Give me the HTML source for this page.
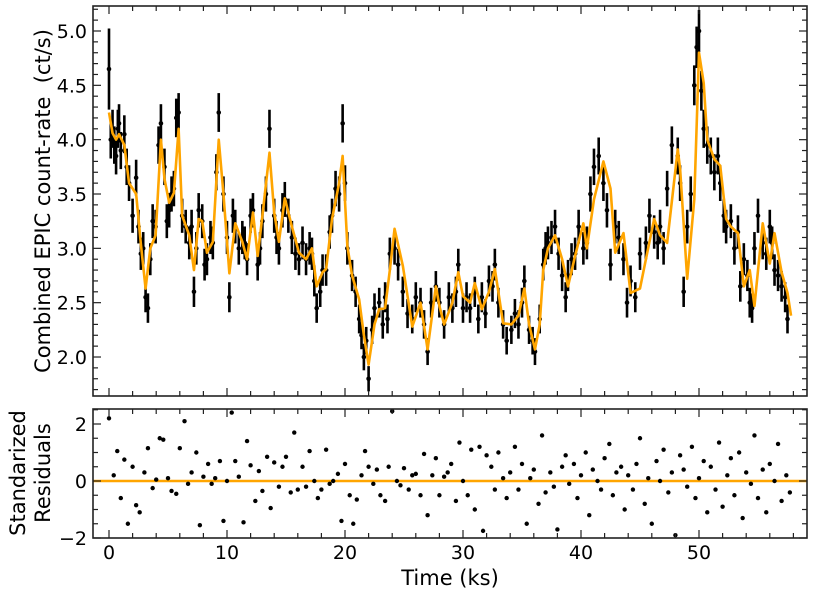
<!DOCTYPE html>
<html><head><meta charset="utf-8">
<style>
html,body{margin:0;padding:0;background:#fff;}
svg{display:block;font-family:"DejaVu Sans","Liberation Sans",sans-serif;}
</style></head>
<body>
<svg id="chart" width="814" height="596" viewBox="0 0 814 596" xmlns="http://www.w3.org/2000/svg">
<rect width="814" height="596" fill="#fff"/>
<g id="gtop"></g>
<g id="gbot"></g>
<text x="450" y="585" font-size="21" text-anchor="middle">Time (ks)</text>
<text transform="translate(50,201) rotate(-90)" font-size="21" text-anchor="middle">Combined EPIC count-rate&#160; (ct/s)</text>
<text transform="translate(25,473) rotate(-90)" font-size="21" text-anchor="middle">Standarized</text>
<text transform="translate(50,473) rotate(-90)" font-size="21" text-anchor="middle">Residuals</text>
</svg>
<script>
const modelT=[0,0.3,0.6,0.85,1.3,1.7,2.3,2.7,3.1,3.5,3.95,4.4,4.7,5.1,5.5,5.9,6.2,6.8,7.2,7.6,7.9,8.3,8.8,9.3,9.7,10.2,10.7,11.3,11.7,12.2,12.6,13.0,13.6,14.0,14.4,14.9,15.5,16.1,16.7,17.2,17.6,18.1,18.4,18.9,19.5,19.8,20.2,20.6,21.2,21.6,22.0,22.5,22.9,23.4,23.8,24.2,24.9,25.7,26.4,27.0,27.7,28.0,28.4,29.1,29.6,30.0,30.6,31.0,31.6,32.2,32.7,33.4,34.1,34.7,35.2,35.6,36.1,36.5,36.8,37.2,37.8,38.4,38.9,39.5,40.2,40.5,41.1,41.9,42.5,42.9,43.6,44.2,45.0,45.5,46.2,46.7,47.3,48.2,48.4,49.0,49.6,50.0,50.4,50.7,51.3,51.8,52.3,52.7,53.3,53.8,54.3,54.7,55.4,56.0,56.4,57.0,57.5,57.8];
const modelV=[4.25,4.06,4.0,4.05,3.95,3.6,3.5,3.04,2.63,3.0,3.12,4.0,3.64,3.42,3.51,4.1,3.3,3.12,2.8,3.27,3.25,2.96,3.06,4.0,3.5,2.77,3.23,3.06,2.9,3.33,2.93,3.3,3.88,3.33,3.06,3.46,3.2,2.96,2.9,3.0,2.65,2.78,2.81,3.27,3.6,3.85,3.02,2.75,2.53,2.2,1.93,2.3,2.44,2.45,2.8,3.18,2.84,2.28,2.5,2.07,2.65,2.47,2.3,2.5,2.78,2.56,2.5,2.68,2.44,2.6,2.81,2.31,2.3,2.38,2.63,2.3,2.07,2.3,2.8,3.0,3.12,2.9,2.65,2.93,3.23,3.0,3.45,3.8,3.55,2.96,3.14,2.59,2.63,2.9,3.27,3.12,3.05,3.91,3.73,2.72,3.45,4.8,4.52,4.0,3.82,3.76,3.27,3.2,3.14,2.65,2.8,2.47,3.23,2.86,3.14,2.78,2.59,2.38];
const dataT=[0,0.15,0.3,0.45,0.6,0.75,0.85,1.0,1.3,1.5,1.7,2.0,2.3,2.5,2.7,2.9,3.1,3.3,3.5,3.7,3.95,4.2,4.4,4.7,4.9,5.1,5.3,5.5,5.7,5.9,6.2,6.5,6.8,7.0,7.2,7.4,7.6,7.9,8.1,8.3,8.6,8.8,9.1,9.3,9.7,10.0,10.2,10.5,10.7,11.0,11.3,11.5,11.7,12.0,12.2,12.6,12.8,13.0,13.3,13.6,14.0,14.2,14.4,14.7,14.9,15.2,15.5,15.8,16.1,16.4,16.7,17.0,17.2,17.4,17.6,17.9,18.1,18.4,18.7,18.9,19.2,19.5,19.8,20.0,20.2,20.6,20.9,21.2,21.4,21.6,21.8,22.0,22.3,22.5,22.9,23.2,23.4,23.6,23.8,24.2,24.5,24.9,25.3,25.7,26.0,26.4,26.7,27.0,27.3,27.7,28.0,28.4,28.8,29.1,29.4,29.6,30.0,30.3,30.6,31.0,31.3,31.6,31.9,32.2,32.5,32.7,33.0,33.4,33.7,34.1,34.4,34.7,35.0,35.2,35.6,35.9,36.1,36.5,36.8,37.0,37.2,37.5,37.8,38.1,38.4,38.7,38.9,39.2,39.5,39.8,
40.2,40.5,40.8,41.1,41.5,41.9,42.2,42.5,42.9,43.2,43.6,43.9,44.2,44.6,45.0,45.5,45.8,46.2,46.5,46.7,47.0,47.3,47.7,48.2,48.4,48.7,49.0,49.3,49.6,49.8,50.0,50.2,50.4,50.7,51.0,51.3,51.6,51.8,52.1,52.3,52.7,53.0,53.3,53.5,53.8,54.1,54.3,54.5,54.7,55.0,55.4,55.7,56.0,56.2,56.4,56.7,57.0,57.3,57.5,57.8];
const dataV=[4.65,4.0,4.1,3.95,3.85,4.1,4.15,3.9,4.05,3.75,3.6,3.3,3.65,3.2,2.95,3.0,2.55,2.45,2.9,3.25,3.2,3.95,4.15,3.75,3.25,3.35,3.5,3.55,4.2,4.25,3.3,3.2,3.05,3.2,2.6,3.0,3.35,3.25,2.85,2.9,3.1,3.05,3.7,4.25,3.5,3.1,2.55,3.3,3.2,3.0,3.1,3.05,2.9,3.3,3.35,2.85,3.0,3.25,3.5,4.1,3.3,3.1,3.0,3.35,3.45,3.3,3.1,2.95,2.9,3.05,2.9,3.0,2.95,2.7,2.45,2.6,2.8,2.8,3.15,3.3,3.55,3.5,4.15,3.6,3.0,2.75,2.6,2.35,2.2,2.0,2.15,1.8,2.25,2.45,2.5,2.3,2.55,2.35,2.95,3.0,2.85,2.6,2.4,2.35,2.55,2.5,2.3,2.05,2.5,2.65,2.5,2.3,2.55,2.45,2.6,2.85,2.45,2.55,2.45,2.6,2.35,2.55,2.4,2.7,2.65,2.85,2.5,2.3,2.15,2.25,2.4,2.3,2.5,2.7,2.25,2.15,2.05,2.35,2.85,3.0,3.05,3.1,3.2,2.95,2.75,2.55,2.75,2.9,2.95,
3.2,3.0,3.05,3.5,3.75,3.85,3.6,3.35,2.85,3.2,3.1,2.9,2.5,2.7,2.55,2.95,3.05,3.3,3.15,3.05,3.2,3.0,3.55,3.95,3.85,3.6,2.6,3.2,3.5,4.5,4.85,5.0,4.45,4.1,3.95,3.85,3.7,3.85,3.6,3.3,3.2,3.25,3.0,3.15,2.65,2.9,2.75,2.5,2.45,3.0,3.3,3.05,2.95,3.2,3.05,2.8,2.75,2.65,2.55,2.35];
const resT=[0,0.4,0.7,1.0,1.3,1.6,2.0,2.3,2.6,3.0,3.3,3.7,4.0,4.3,4.6,5.0,5.3,5.7,6.0,6.4,6.7,7.0,7.4,7.7,8.0,8.4,8.7,9.0,9.4,9.7,10.0,10.4,10.7,11.0,11.4,11.7,12.0,12.4,12.7,13.0,13.4,13.7,14.0,14.4,14.7,15.0,15.4,15.7,16.0,16.4,16.7,17.0,17.4,17.7,18.0,18.4,18.7,19.0,19.4,19.7,20.0,20.4,20.7,21.0,21.4,21.7,22.0,22.4,22.7,23.0,23.4,23.7,24.0,24.4,24.7,25.0,25.4,25.7,26.0,26.4,26.7,27.0,27.4,27.7,28.0,28.4,28.7,29.0,29.4,29.7,30.0,30.4,30.7,31.0,31.4,31.7,32.0,32.4,32.7,33.0,33.4,33.7,34.0,34.4,34.7,35.0,35.4,35.7,36.0,36.4,36.7,37.0,37.4,37.7,38.0,38.4,38.7,39.0,39.4,39.7,40.0,40.4,40.7,41.0,41.4,41.7,42.0,42.4,42.7,43.0,43.4,43.7,44.0,44.4,44.7,45.0,45.4,45.7,46.0,46.4,46.7,47.0,47.4,47.7,48.0,48.4,48.7,49.0,49.4,49.7,50.0,50.4,50.7,51.0,51.4,51.7,52.0,52.4,52.7,53.0,53.4,53.7,54.0,54.4,54.7,55.0,55.4,55.7,56.0,56.4,56.7,57.0,57.4,57.7];
const resV=[2.2,0.2,1.05,-0.6,0.75,-1.5,0.5,-0.85,-1.1,0.3,1.15,-0.25,0.05,1.5,1.45,0.1,-0.35,-0.45,1.15,2.1,-0.1,0.3,1.0,-1.55,0.15,0.6,-0.1,0.1,0.7,-1.4,0.0,2.4,0.7,0.15,-1.45,1.4,0.55,-0.7,0.35,-0.35,0.85,-0.95,0.65,-0.2,0.5,0.85,-0.4,1.7,-0.3,0.5,-0.2,1.05,0.0,-0.6,-0.3,1.1,-0.1,0.0,0.25,-1.4,0.6,-0.5,-1.5,-0.65,0.2,1.05,0.5,-0.1,0.4,-0.5,-0.7,0.5,2.45,0.0,-0.15,0.45,-0.3,0.2,0.25,-0.5,0.95,-1.2,0.2,0.8,-0.5,0.15,0.3,0.6,-0.7,1.35,0.0,-0.5,1.1,-1.0,1.2,-1.75,0.9,0.5,-0.3,1.0,0.1,-0.6,0.3,1.2,-0.3,0.6,-1.5,0.1,0.4,-0.8,1.6,-0.4,0.3,-0.2,-1.7,0.5,0.9,-0.1,0.6,-0.6,0.2,1.0,-1.2,0.4,0.0,-0.3,0.8,1.3,-0.5,0.3,0.5,-1.0,0.2,-0.3,0.6,1.5,-0.8,0.1,-1.5,0.7,0.0,1.1,-0.4,0.3,-1.9,0.9,0.4,-0.2,1.2,-0.6,0.1,0.7,-1.1,0.5,-0.3,1.35,-0.9,0.2,0.8,-0.5,1.0,-1.3,0.3,-0.1,1.6,-0.6,0.4,-1.1,0.6,0.0,1.3,-0.7,0.2,-0.4,0.9,-0.2,0.3,-1.4,0.5,1.7,-0.3,0.6,-1.0,0.3,0.2,-0.5];
const errBase=0.15;
const yTicks=["2.0","2.5","3.0","3.5","4.0","4.5","5.0"];
const rTicks=["−2","0","2"];
const xTicks=["0","10","20","30","40","50"];

const NS="http://www.w3.org/2000/svg";
const L=93,R=807,T1=6,B1=396,T2=409,B2=538;
const xs=t=>109+(t-0)*11.8;
const ys=v=>31+(5-v)*108.67;
const yr=v=>481-v*28.5;
function mk(parent,tag,attrs){const e=document.createElementNS(NS,tag);for(const k in attrs)e.setAttribute(k,attrs[k]);parent.appendChild(e);return e;}
const gTop=document.getElementById('gtop'),gBot=document.getElementById('gbot');

for(let i=0;i<dataT.length&&i<dataV.length;i++){
  const x=xs(dataT[i]),v=dataV[i];
  const e=errBase*Math.sqrt(v/3)*(i===0?2:1);
  const l=mk(gTop,'line',{x1:x,x2:x,y1:ys(v+e),y2:ys(v-e),stroke:'#000','stroke-width':2.6});
  
  
  const c=mk(gTop,'circle',{cx:x,cy:ys(v),r:2.3,fill:'#000'});
  
  
}
const pl=mk(gTop,'polyline',{points:modelT.map((t,i)=>xs(t)+','+ys(modelV[i])).join(' '),fill:'none',stroke:'#ffa500','stroke-width':2.6,'stroke-linejoin':'round'});



const zl=mk(gBot,'line',{x1:L,x2:R,y1:yr(0),y2:yr(0),stroke:'#ffa500','stroke-width':2.4});


for(let i=0;i<resT.length&&i<resV.length;i++){
  const c=mk(gBot,'circle',{cx:xs(resT[i]),cy:yr(resV[i]),r:2.2,fill:'#000'});
  
  
}

function frame(g,T,B,name){
  const r=mk(g,'rect',{x:L,y:T,width:R-L,height:B-T,fill:'none',stroke:'#222','stroke-width':1.6});
  
  
  for(let t=-2;t<=60;t+=2){
    const x=xs(t);if(x<L||x>R)continue;
    const len=(t%10===0)?8:5;
    mk(g,'line',{x1:x,x2:x,y1:B,y2:B-len,stroke:'#222','stroke-width':1.2});
    mk(g,'line',{x1:x,x2:x,y1:T,y2:T+len,stroke:'#222','stroke-width':1.2});
  }
}
frame(gTop,T1,B1,'top-plot-frame');
frame(gBot,T2,B2,'bottom-plot-frame');
for(let k=17;k<=52;k++){
  const y=ys(k/10);if(y<T1||y>B1)continue;
  const len=(k%5===0)?8:5;
  mk(gTop,'line',{x1:L,x2:L+len,y1:y,y2:y,stroke:'#222','stroke-width':1.2});
  mk(gTop,'line',{x1:R,x2:R-len,y1:y,y2:y,stroke:'#222','stroke-width':1.2});
}
yTicks.forEach(s=>{
  const t=mk(gTop,'text',{x:L-6,y:ys(parseFloat(s))+7,'font-size':19,'text-anchor':'end'});
  t.textContent=s;
  
  
});
for(let k=-4;k<=5;k++){
  const y=yr(k/2);if(y<T2||y>B2+0.5)continue;
  const len=(k%4===0)?8:5;
  mk(gBot,'line',{x1:L,x2:L+len,y1:y,y2:y,stroke:'#222','stroke-width':1.2});
  mk(gBot,'line',{x1:R,x2:R-len,y1:y,y2:y,stroke:'#222','stroke-width':1.2});
}
rTicks.forEach(s=>{
  const v=parseFloat(s.replace('−','-'));
  const t=mk(gBot,'text',{x:L-6,y:yr(v)+7,'font-size':19,'text-anchor':'end'});
  t.textContent=s;
  
  
});
xTicks.forEach(s=>{
  const t=mk(gBot,'text',{x:xs(parseFloat(s)),y:559,'font-size':19,'text-anchor':'middle'});
  t.textContent=s;
  
  
});
</script>
</body></html>
